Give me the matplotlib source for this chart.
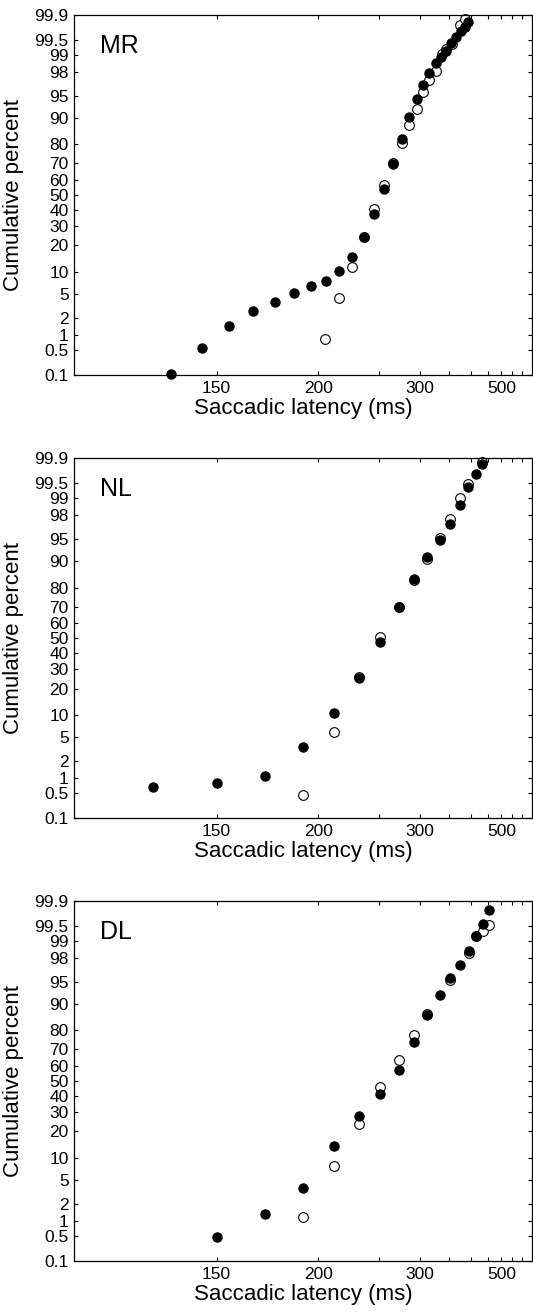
import matplotlib
matplotlib.use('Agg')
import matplotlib.pyplot as plt
from statistics import NormalDist

plt.rcParams['font.family'] = ['Liberation Sans', 'DejaVu Sans']

probit = NormalDist().inv_cdf

subjects = ['MR', 'NL', 'DL']

# latency (ms) and cumulative percent, filled = one condition, open = other
mr_filled_ms = [135.0, 144.7, 154.8, 164.8, 175.1, 185.2, 195.2, 205.0, 214.5, 225.0,
                235.3, 244.9, 254.6, 265.1, 275.2, 284.8, 295.1, 304.1, 314.1, 324.9,
                334.6, 344.8, 354.3, 364.4, 375.0, 384.6, 393.9]
mr_filled_pct = [0.14, 0.55, 1.43, 2.63, 3.77, 5.06, 6.54, 7.67, 10.3, 14.9,
                 24.2, 37.4, 54.2, 69.7, 82.5, 90.2, 94.5, 96.7, 97.9, 98.63,
                 98.94, 99.16, 99.44, 99.58, 99.68, 99.74, 99.80]
mr_open_ms = [204.8, 214.5, 225.0, 235.3, 244.9, 254.6, 265.1, 275.2, 284.8, 295.1,
              305.1, 314.6, 325.5, 337.1, 344.8, 355.7, 373.4, 384.6]
mr_open_pct = [0.82, 4.25, 11.4, 24.3, 40.6, 56.4, 70.1, 80.5, 87.9, 92.4,
               95.7, 97.2, 98.06, 99.06, 99.24, 99.41, 99.77, 99.83]

nl_filled_ms = [129.8, 150.1, 170.1, 190.5, 210.5, 231.1, 251.1, 271.5, 291.3, 311.4,
                332.1, 352.2, 372.7, 393.9, 412.8, 432.7]
nl_filled_pct = [0.66, 0.80, 1.09, 3.48, 10.5, 25.0, 47.6, 69.6, 83.6, 91.1,
                 94.97, 97.18, 98.68, 99.40, 99.69, 99.81]
nl_open_ms = [190.5, 210.5, 231.1, 251.1, 271.5, 291.3, 311.4, 332.1, 352.2, 372.7,
              393.9, 432.7]
nl_open_pct = [0.45, 5.9, 25.6, 50.9, 69.9, 83.4, 90.5, 95.3, 97.68, 99.0,
               99.48, 99.83]

dl_filled_ms = [150.1, 170.1, 190.5, 210.5, 230.8, 251.1, 271.5, 291.3, 311.4, 332.1,
                352.9, 373.4, 394.6, 413.8, 433.7, 453.4]
dl_filled_pct = [0.47, 1.35, 3.73, 13.9, 27.8, 41.5, 57.4, 74.2, 86.5, 92.4,
                 95.7, 97.3, 98.5, 99.21, 99.56, 99.78]
dl_open_ms = [190.5, 210.5, 230.8, 251.1, 271.5, 291.3, 311.4, 352.9, 394.6, 413.8,
              433.7, 455.8]
dl_open_pct = [1.17, 7.78, 23.8, 45.9, 63.8, 77.7, 86.8, 95.3, 98.36, 99.23,
               99.39, 99.53]

panels = [
    (mr_filled_ms, mr_filled_pct, mr_open_ms, mr_open_pct),
    (nl_filled_ms, nl_filled_pct, nl_open_ms, nl_open_pct),
    (dl_filled_ms, dl_filled_pct, dl_open_ms, dl_open_pct),
]

x_ticks_ms = [150, 200, 250, 300, 350, 400, 450, 500, 550, 600]
x_labelled = [150, 200, 300, 500]
y_ticks_pct = [0.5, 1, 2, 5, 10, 20, 30, 40, 50, 60, 70, 80, 90, 95, 98, 99, 99.5]


def to_x(ms):
    return [-1000.0 / v for v in ms]


def to_z(pct):
    return [probit(p / 100.0) for p in pct]


fig = plt.figure(figsize=(5.33, 13.12), dpi=100)

bottoms = [0.7142, 0.3765, 0.0389]

for i, (f_ms, f_pct, o_ms, o_pct) in enumerate(panels):
    ax = fig.add_axes([0.1394, bottoms[i], 0.8584, 0.2744])
    ax.plot(to_x(o_ms), to_z(o_pct), 'o', ms=7, mfc='white', mec='black',
            mew=0.8, clip_on=False)
    ax.plot(to_x(f_ms), to_z(f_pct), 'o', ms=6.5, mfc='black', mec='black',
            clip_on=False)

    ax.set_xlim(-9, -1.5)
    ax.set_ylim(-3, 3)

    ax.set_xticks(to_x(x_ticks_ms))
    ax.set_xticklabels([str(t) if t in x_labelled else '' for t in x_ticks_ms])

    yt = [-3] + to_z(y_ticks_pct) + [3]
    ylab = ['0.1'] + ['%g' % p for p in y_ticks_pct] + ['99.9']
    ax.set_yticks(yt)
    ax.set_yticklabels(ylab)

    ax.tick_params(direction='in', top=True, right=True, length=3, width=0.8,
                   labelsize=12.5, pad=4)
    for s in ax.spines.values():
        s.set_linewidth(0.9)

    ax.set_xlabel('Saccadic latency (ms)', fontsize=16, labelpad=2)
    ax.set_ylabel('Cumulative percent', fontsize=16)
    ax.yaxis.set_label_coords(-0.11, 0.5)

    ax.text(0.056, 0.894, subjects[i], transform=ax.transAxes, fontsize=18,
            va='baseline', ha='left')

fig.savefig('out.png', dpi=100)
